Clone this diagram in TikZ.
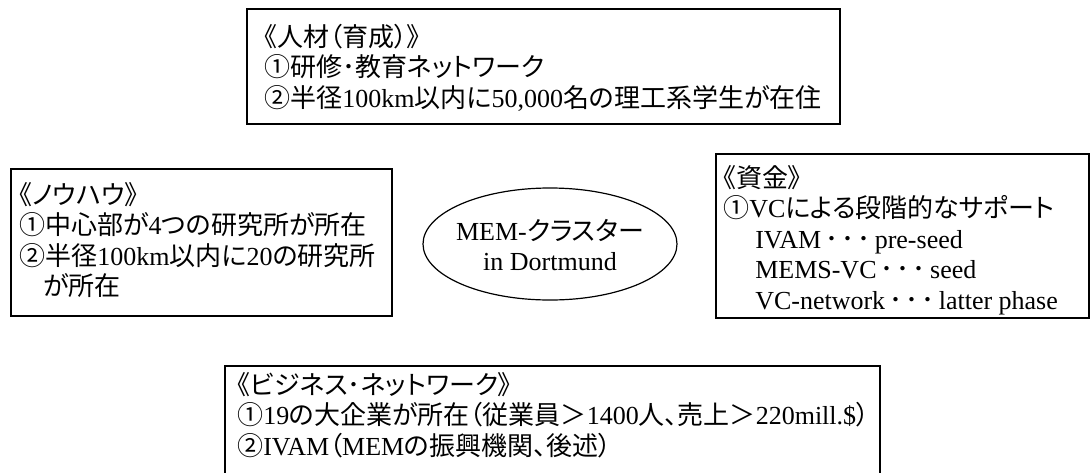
\documentclass[tikz,border=0pt]{standalone}
\usepackage{fontspec}
\setmainfont{Liberation Serif}
\newfontfamily\jpfont[RawFeature=+palt]{Noto Sans CJK JP}
\newfontfamily\jpfull{Noto Sans CJK JP}
\newcommand{\J}[1]{{\jpfont #1}}
\newcommand{\OneDot}{\hbox to 0.62em{\hss{\jpfull ･}\hss}}
\newcommand{\Dots}{\kern0.1em\OneDot\OneDot\OneDot\kern0.1em}
\newcommand{\Lines}[1]{\vtop{\lineskiplimit=-40pt\lineskip=0pt #1}}
\usetikzlibrary{fit,shapes.geometric}
\tikzset{
  boxframe/.style={draw=black, line width=0.9pt, inner sep=0pt, rectangle},
  hubshape/.style={draw=black, line width=0.9pt, ellipse, inner sep=0pt},
  txt/.style={inner sep=0pt, anchor=base west, font=\fontsize{19.5}{22.875}\selectfont}
}
\begin{document}
\begin{tikzpicture}[x=0.75pt,y=-0.75pt]
\clip (0,0) rectangle (1090,472);
\fill[white] (0,0) rectangle (1090,472);

% boxes
\node[boxframe, fit={(247,9) (840,124)}] (top) {};
\node[boxframe, fit={(11,169) (392,316)}] (left) {};
\node[boxframe, fit={(716,154) (1089,318)}] (right) {};
\node[boxframe, fit={(225,366) (880,500)}] (bottom) {};
\node[hubshape, minimum width=190.5pt, minimum height=84pt] (hub) at (550,244) {};

% texts
\node[txt] (toptxt) at (264,46) {\Lines{%
  \hbox{\J{《人材（育成）》}}
  \hbox{\J{①研修･教育ネットワーク}}
  \hbox{\J{②半径}100km\J{以内に}50,000\J{名の理工系学生が在住}}}};

\node[txt] (lefttxt) at (19,204) {\Lines{%
  \hbox{\J{《ノウハウ》}}
  \hbox{\J{①中心部が}4\J{つの研究所が所在}}
  \hbox{\J{②半径}100km\J{以内に}20\J{の研究所}}
  \hbox{\hspace*{0.92em}\J{が所在}}}};

\node[txt, anchor=base] (hubtxt) at (550,240) {\Lines{%
  \hbox to 0pt{\hss MEM-\J{クラスター}\hss}
  \hbox to 0pt{\hss in Dortmund\hss}}};

\node[txt] (righttxt) at (723,187) {\Lines{%
  \hbox{\J{《資金》}}
  \hbox{\J{①}VC\J{による段階的なサポート}}
  \hbox{\hspace*{1.23em}IVAM\Dots pre-seed}
  \hbox{\hspace*{1.23em}MEMS-VC\Dots seed}
  \hbox{\hspace*{1.23em}VC-network\Dots latter phase}}};

\node[txt] (bottomtxt) at (237,394) {\Lines{%
  \hbox{\J{《ビジネス･ネットワーク》}}
  \hbox{\J{①}19\J{の大企業が所在（従業員＞}1400\J{人、売上＞}220mill.\$\J{）}}
  \hbox{\J{②}IVAM\J{（}MEM\J{の振興機関、後述）}}}};
\end{tikzpicture}
\end{document}
